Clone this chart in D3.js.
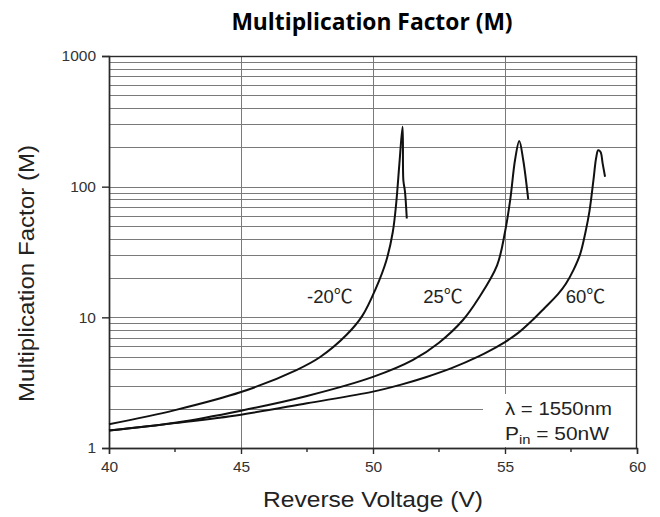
<!DOCTYPE html>
<html>
<head>
<meta charset="utf-8">
<script src="https://cdn.jsdelivr.net/npm/d3@7"></script>
<style>
  body { margin: 0; background: #fff; }
  svg { display: block; }
</style>
</head>
<body>
<div id="chart"></div>
<script>
// Curves: reverse voltage (V) and multiplication factor (M)
const voltsM20 = [40, 42.5, 45, 47.1, 48, 49, 49.6, 50.1, 50.5, 50.75, 50.88, 51.0, 51.12, 51.15, 51.21, 51.28];
const gainM20  = [1.52, 1.95, 2.68, 3.95, 4.97, 7.35, 10.3, 16.5, 27, 45, 75, 150, 287, 112, 92, 57];

const volts25 = [40, 42.5, 45, 47.5, 50, 51.5, 52.5, 53.4, 54.0, 54.7, 55.0, 55.2, 55.38, 55.54, 55.69, 55.88];
const gain25  = [1.36, 1.56, 1.93, 2.5, 3.5, 4.7, 6.4, 9.5, 14, 25, 45, 80, 160, 224, 160, 80];

const volts60 = [40, 42.5, 45, 47.5, 50, 51, 52, 53, 54, 54.5, 55, 55.5, 56, 56.5, 57, 57.3, 57.6, 57.85, 58.05, 58.2, 58.35, 58.45, 58.53, 58.62, 58.7, 58.79];
const gain60  = [1.36, 1.55, 1.8, 2.2, 2.7, 3.03, 3.48, 4.1, 5.02, 5.66, 6.47, 7.6, 9.35, 11.8, 15, 18, 23.2, 30.6, 45, 65, 112, 165, 190, 184, 150, 119];

const seriesNames = ["-20", "25", "60"];
const unit = "℃";

const xTicks = [40, 45, 50, 55, 60];
const xMinor = [42.5, 47.5, 52.5, 57.5];
const yTicks = [1, 10, 100, 1000];

const width = 660, height = 517;
const plotL = 109, plotR = 637, plotT = 56, plotB = 448;
const font = "'Liberation Sans', Arial, sans-serif";

const svg = d3.select("#chart").append("svg")
    .attr("width", width)
    .attr("height", height)
    .attr("font-family", font);

const x = d3.scaleLinear().domain([40, 60]).range([plotL, plotR]);
const y = d3.scaleLog().domain([1, 1000]).range([plotB, plotT]);

// minor + major horizontal grid (2..9 in each decade)
const hGrid = [];
[1, 10, 100].forEach(d => { for (let k = 1; k <= 9; k++) hGrid.push(d * k); });
svg.append("g")
   .selectAll("line")
   .data(hGrid.filter(v => v > 1))
   .enter().append("line")
   .attr("x1", plotL).attr("x2", plotR)
   .attr("y1", d => Math.round(y(d)) + 0.5)
   .attr("y2", d => Math.round(y(d)) + 0.5)
   .attr("stroke", "#7a7a7a")
   .attr("stroke-width", 1);

// vertical grid
svg.append("g")
   .selectAll("line")
   .data(xTicks.slice(1, -1))
   .enter().append("line")
   .attr("x1", d => Math.round(x(d)) + 0.5).attr("x2", d => Math.round(x(d)) + 0.5)
   .attr("y1", plotT).attr("y2", plotB)
   .attr("stroke", "#7a7a7a")
   .attr("stroke-width", 1);

// white box behind the conditions note
svg.append("rect")
   .attr("x", 483).attr("y", 394)
   .attr("width", plotR - 483 - 1).attr("height", plotB - 394 - 1)
   .attr("fill", "#fff");

// frame
svg.append("rect")
   .attr("x", plotL + 0.5).attr("y", plotT + 0.5)
   .attr("width", plotR - plotL - 1).attr("height", plotB - plotT)
   .attr("fill", "none")
   .attr("stroke", "#2a2a2a")
   .attr("stroke-width", 1.4);

// x axis
const xAxis = svg.append("g")
   .attr("transform", `translate(0,${plotB})`)
   .call(d3.axisBottom(x).tickValues(xTicks).tickSize(6).tickFormat(d3.format("d")));
xAxis.attr("font-family", font).attr("font-size", 15.5);
xAxis.select(".domain").attr("stroke", "#2a2a2a").attr("stroke-width", 1.4);
xAxis.selectAll(".tick line").attr("stroke", "#2a2a2a").attr("stroke-width", 1.4);
xAxis.selectAll("text").attr("fill", "#333").attr("y", 12).attr("dy", "0.8em");
xAxis.append("g").selectAll("line")
   .data(xMinor)
   .enter().append("line")
   .attr("x1", d => x(d)).attr("x2", d => x(d))
   .attr("y1", 0).attr("y2", 4)
   .attr("stroke", "#2a2a2a").attr("stroke-width", 1.4);

// y axis
const yAxis = svg.append("g")
   .attr("transform", `translate(${plotL},0)`)
   .call(d3.axisLeft(y).tickValues(yTicks).tickSize(7).tickFormat(d3.format("d")));
yAxis.attr("font-family", font).attr("font-size", 15.5);
yAxis.select(".domain").attr("stroke", "#2a2a2a").attr("stroke-width", 1.4);
yAxis.selectAll(".tick line").attr("stroke", "#2a2a2a").attr("stroke-width", 1.4);
yAxis.selectAll("text").attr("fill", "#333").attr("x", -13);

// curves
const line = d3.line()
   .x(d => x(d[0]))
   .y(d => y(d[1]))
   .curve(d3.curveCatmullRom.alpha(0.5));

const series = [
  d3.zip(voltsM20, gainM20),
  d3.zip(volts25, gain25),
  d3.zip(volts60, gain60)
];

svg.append("g")
   .selectAll("path")
   .data(series)
   .enter().append("path")
   .attr("d", line)
   .attr("fill", "none")
   .attr("stroke", "#111")
   .attr("stroke-width", 2)
   .attr("stroke-linejoin", "round");

// temperature labels (placed in data units)
const labelAt = [[47.5, 12.9], [51.9, 12.9], [57.3, 12.9]];
const tl = svg.append("g")
   .selectAll("text")
   .data(seriesNames)
   .enter().append("text")
   .attr("x", (d, i) => x(labelAt[i][0]))
   .attr("y", (d, i) => y(labelAt[i][1]))
   .attr("font-size", 18.5)
   .attr("fill", "#222");
tl.append("tspan").text(d => d);
tl.append("tspan")
   .attr("font-family", "'Noto Sans CJK SC', sans-serif")
   .attr("font-size", 19)
   .text(unit);

// conditions note
const note = svg.append("g").attr("font-size", 18.5).attr("fill", "#222");
note.append("text").attr("x", 505).attr("y", 415)
   .attr("textLength", 107).attr("lengthAdjust", "spacingAndGlyphs")
   .text("λ = 1550nm");
const pin = note.append("text").attr("x", 505).attr("y", 440)
   .attr("textLength", 104).attr("lengthAdjust", "spacingAndGlyphs");
pin.append("tspan").text("P");
pin.append("tspan").attr("font-size", 13).attr("dy", 4).text("in");
pin.append("tspan").attr("dy", -4).text(" = 50nW");

// axis titles
svg.append("text")
   .attr("x", (plotL + plotR) / 2)
   .attr("y", 507)
   .attr("text-anchor", "middle")
   .attr("font-size", 21.5)
   .attr("fill", "#222")
   .attr("textLength", 220).attr("lengthAdjust", "spacingAndGlyphs")
   .text("Reverse Voltage (V)");

svg.append("text")
   .attr("transform", `translate(34,273.5) rotate(-90)`)
   .attr("text-anchor", "middle")
   .attr("font-size", 21.5)
   .attr("fill", "#222")
   .attr("textLength", 257).attr("lengthAdjust", "spacingAndGlyphs")
   .text("Multiplication Factor (M)");

// chart title
svg.append("text")
   .attr("x", 372)
   .attr("y", 30)
   .attr("text-anchor", "middle")
   .attr("font-family", "'Open Sans', sans-serif")
   .attr("font-weight", "bold")
   .attr("font-size", 22.8)
   .attr("fill", "#000")
   .text("Multiplication Factor (M)");
</script>
</body>
</html>
